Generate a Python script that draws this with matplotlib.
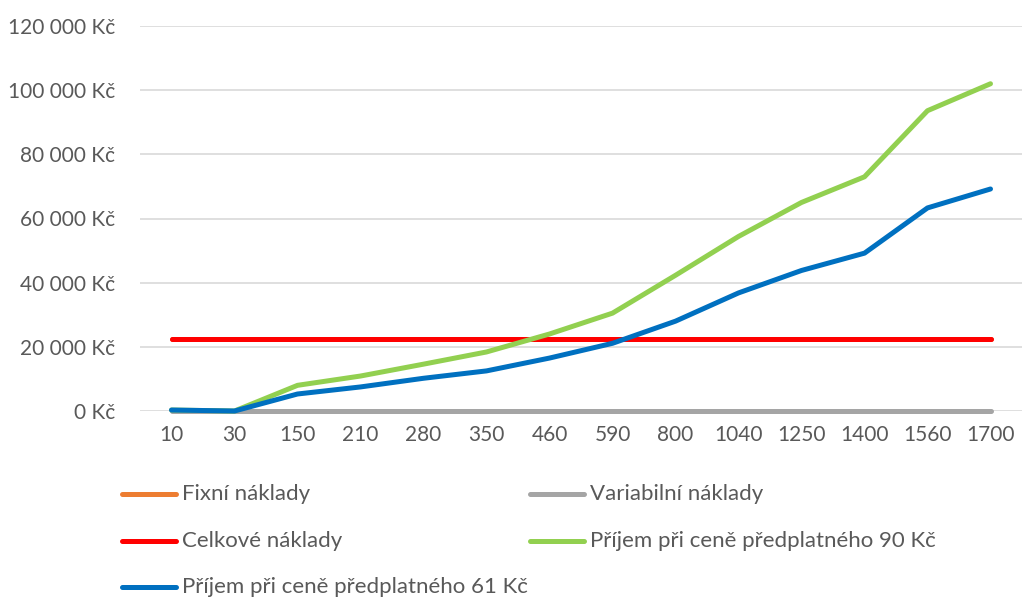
import matplotlib.pyplot as plt
from matplotlib.lines import Line2D
from matplotlib.ticker import FuncFormatter, MultipleLocator

plt.rcParams['font.family'] = ['Lato', 'DejaVu Sans']

# počet předplatitelů (kategorie na ose x)
predplatitele = ['10', '30', '150', '210', '280', '350', '460', '590',
                 '800', '1040', '1250', '1400', '1560', '1700']

fixni = [22400] * 14
variabilni = [0] * 14
celkove = [22400] * 14
prijem_90 = [300, 0, 8000, 10900, 14600, 18400, 24000, 30500,
             42300, 54400, 65000, 73000, 93600, 102000]
prijem_61 = [300, 0, 5300, 7500, 10200, 12500, 16500, 21100,
             28000, 36800, 43800, 49200, 63300, 69200]

nazvy = ['Fixní náklady', 'Variabilní náklady', 'Celkové náklady',
         'Příjem při ceně předplatného 90 Kč', 'Příjem při ceně předplatného 61 Kč']
barvy = ['#ED7D31', '#A5A5A5', '#FF0000', '#92D050', '#0070C0']
serie = [fixni, variabilni, celkove, prijem_90, prijem_61]

seda_text = '#595959'

fig = plt.figure(figsize=(10.22, 5.97), dpi=100)
ax = fig.add_axes([140 / 1022, 1 - 411 / 597, 882 / 1022, 385 / 597])

x = range(len(predplatitele))
for hodnoty, barva, nazev in zip(serie, barvy, nazvy):
    ax.plot(x, hodnoty, color=barva, lw=3.6, solid_capstyle='round',
            solid_joinstyle='round', label=nazev, zorder=3, clip_on=False)

ax.set_xlim(-0.5, len(predplatitele) - 0.5)
ax.set_ylim(0, 120000)
ax.yaxis.set_major_locator(MultipleLocator(20000))
ax.yaxis.set_major_formatter(FuncFormatter(
    lambda v, pos: f'{int(v):,} Kč'.replace(',', ' ')))
ax.set_xticks(list(x))
ax.set_xticklabels(predplatitele)

ax.grid(axis='y', color='#D9D9D9', lw=1.2, zorder=0)
for s in ax.spines.values():
    s.set_visible(False)
ax.tick_params(axis='both', length=0, labelsize=15, colors=seda_text)
ax.tick_params(axis='y', pad=18)
ax.tick_params(axis='x', pad=10)

# legenda po řádcích jako v Excelu
pozice = [(122, 494), (530, 494), (122, 541), (530, 541), (122, 587)]
for (px, py), barva, nazev in zip(pozice, barvy, nazvy):
    fy = 1 - py / 597
    fig.add_artist(Line2D([px / 1022, (px + 54) / 1022], [fy, fy],
                          transform=fig.transFigure, color=barva, lw=3.6,
                          solid_capstyle='round'))
    fig.text((px + 60) / 1022, fy, nazev, fontsize=16, color=seda_text,
             va='center', ha='left')

fig.savefig('out.png', dpi=100)
